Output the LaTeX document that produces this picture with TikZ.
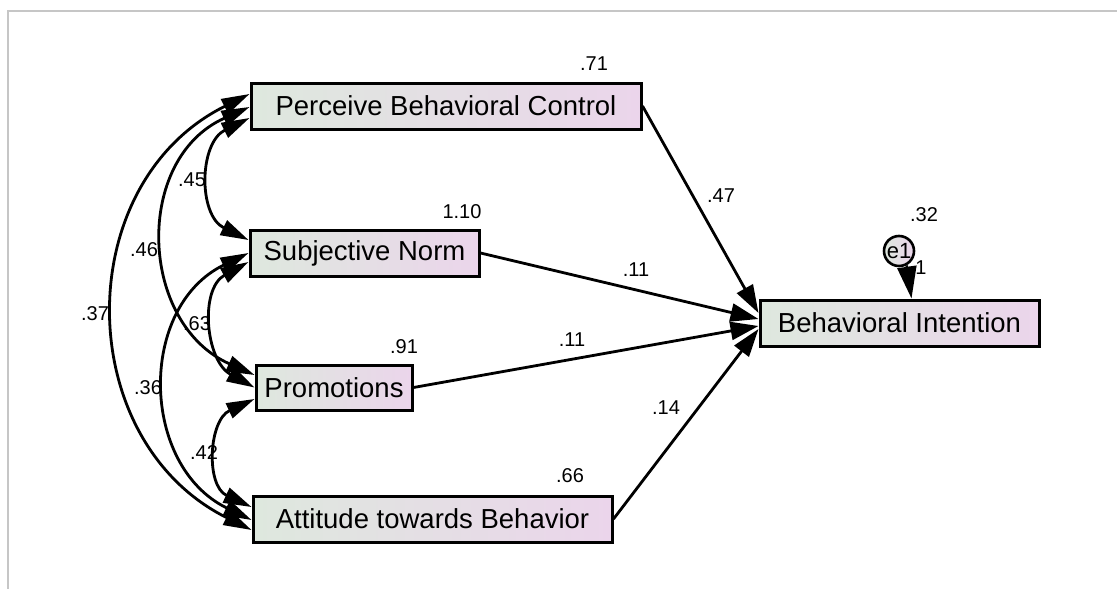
\documentclass[tikz,border=0pt]{standalone}
\usepackage{fontspec}
\setmainfont{Liberation Sans}
\usetikzlibrary{arrows.meta}

\definecolor{boxleft}{RGB}{222,232,222}
\definecolor{boxright}{RGB}{235,213,235}
\definecolor{framegray}{RGB}{198,198,198}

\tikzset{
  var/.style={draw=black, line width=3pt, left color=boxleft, right color=boxright,
    minimum height=46pt, inner sep=0pt, font=\fontsize{27.5}{31}\selectfont},
  errvar/.style={circle, draw=black, line width=2.6pt, left color=boxleft, right color=boxright,
    minimum size=30pt, inner sep=0pt, font=\fontsize{22}{25}\selectfont},
  est/.style={font=\fontsize{20}{23}\selectfont, inner sep=0pt},
  path/.style={line width=2.8pt, -{Triangle[length=28pt,width=18pt]}},
  cov/.style={line width=2.8pt, {Triangle[length=28pt,width=16pt]}-{Triangle[length=28pt,width=16pt]}},
}

\begin{document}
\begin{tikzpicture}[x=1pt, y=-1pt]
  \useasboundingbox (0,0) rectangle (1117,589);

  % light frame
  \draw[framegray, line width=2pt] (8,589) -- (8,10.5) -- (1117,10.5);

  % observed variables
  \node[var, minimum width=390pt] (pbc)  at (446,106)   {Perceive Behavioral Control};
  \node[var, minimum width=229pt] (sn)   at (364.5,253) {Subjective Norm};
  \node[var, minimum width=156pt, minimum height=45pt] (prom) at (334,387.5) {Promotions};
  \node[var, minimum width=359pt] (atb)  at (432.5,519) {Attitude towards Behavior};
  \node[var, minimum width=279pt] (bi)   at (899.5,323) {Behavioral Intention};

  % error term
  \node[errvar] (e1) at (899,251) {e1};

  % variances / squared multiple correlation
  \node[est] (v1) at (594,64)  {.71};
  \node[est] (v2) at (462,212) {1.10};
  \node[est] (v3) at (404,347) {.91};
  \node[est] (v4) at (570,476) {.66};
  \node[est] (v5) at (924,215) {.32};

  % regression paths
  \draw[path] (pbc.east) -- ([yshift=10pt]bi.west);
  \draw[path] (sn.east) -- ([yshift=4pt]bi.west);
  \draw[path] (prom.east) -- ([yshift=-3pt]bi.west);
  \draw[path] (atb.east) -- ([yshift=-6pt]bi.west);
  \draw[line width=2.6pt, -{Triangle[length=32pt,width=19pt]}] (e1.-62) -- ([xshift=12pt]bi.north);

  \node[est] (w1) at (721,196) {.47};
  \node[est] (w2) at (636,270) {.11};
  \node[est] (w3) at (572,340) {.11};
  \node[est] (w4) at (666,408) {.14};
  \node[est] (w5) at (921,268) {1};

  % covariances
  \draw[cov] ([yshift=-12pt]pbc.west) .. controls +(-50.6,24.9) and +(-50.6,-24.9) .. ([yshift=13pt]sn.west);
  \draw[cov] ([yshift=-1pt]pbc.west) .. controls +(-116,51.7) and +(-116,-51.7) .. ([yshift=12.5pt]prom.west);
  \draw[cov] ([yshift=12pt]pbc.west) .. controls +(-179.9,89.5) and +(-179.9,-89.5) .. ([yshift=-11pt]atb.west);
  \draw[cov] ([yshift=-9pt]sn.west) .. controls +(-49.2,27) and +(-49.2,-27) .. (prom.west);
  \draw[cov] (sn.west) .. controls +(-111.2,54.1) and +(-111.2,-54.1) .. ([yshift=-1pt]atb.west);
  \draw[cov] ([yshift=-11.5pt]prom.west) .. controls +(-46,21.3) and +(-46,-21.3) .. ([yshift=12pt]atb.west);

  \node[est] (c1) at (192,180) {.45};
  \node[est] (c2) at (144,250) {.46};
  \node[est] (c3) at (95,314)  {.37};
  \node[est] (c4) at (197,324) {.63};
  \node[est] (c5) at (148,388) {.36};
  \node[est] (c6) at (204,453) {.42};
\end{tikzpicture}
\end{document}
